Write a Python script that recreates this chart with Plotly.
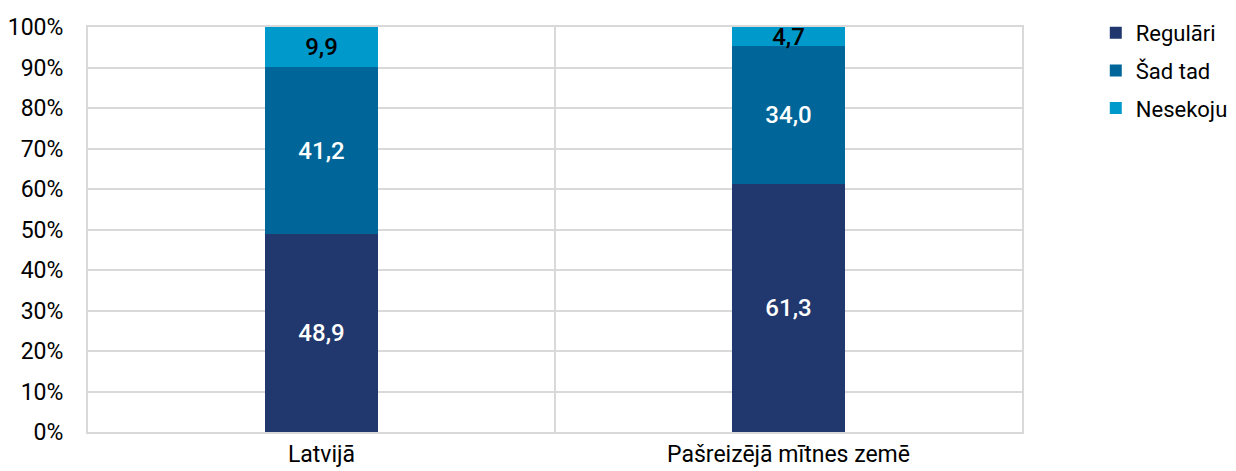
import plotly.graph_objects as go

categories = ["Latvijā", "Pašreizējā mītnes zemē"]
series_names = ["Regulāri", "Šad tad", "Nesekoju"]
regulari = [48.9, 61.3]
sad_tad = [41.2, 34.0]
nesekoju = [9.9, 4.7]
y_ticks = [0, 10, 20, 30, 40, 50, 60, 70, 80, 90, 100]

colors = ["#21386E", "#006699", "#0099CC"]
text_colors = ["white", "white", "black"]
FONT = "Roboto, Liberation Sans, sans-serif"

x_pos = [i + 0.5 for i in range(len(categories))]

def fmt(v):
    return f"{v:.1f}".replace(".", ",")

fig = go.Figure()
for i, (name, vals) in enumerate(zip(series_names, [regulari, sad_tad, nesekoju])):
    fig.add_trace(go.Bar(
        name=name, x=x_pos, y=vals, width=0.244,
        marker=dict(color=colors[i], line=dict(width=0)),
        text=[fmt(v) for v in vals], textposition="inside",
        insidetextanchor="middle",
        textfont=dict(family=FONT, size=24, color=text_colors[i], weight=500),
        legendgroup=name,
        hoverinfo="skip",
    ))

# page body has an 8px margin, so the figure is offset by 8px
fig.update_layout(
    barmode="stack",
    width=1228, height=463,
    margin=dict(l=80, r=214, t=19, b=39, autoexpand=False),
    paper_bgcolor="white", plot_bgcolor="white",
    font=dict(family=FONT, size=23, color="black"),
    uniformtext=dict(minsize=24, mode="show"),
    showlegend=True,
    legend=dict(x=1.079, y=1.037, xanchor="left", yanchor="top",
                tracegroupgap=6, font=dict(size=22), itemwidth=30),
    xaxis=dict(range=[0, 2], tickvals=x_pos, ticktext=categories,
               showgrid=False, showline=True, mirror=True,
               linecolor="#d9d9d9", linewidth=2, ticks="",
               minor=dict(tickvals=[0, 1, 2], showgrid=True,
                          gridcolor="#d9d9d9", gridwidth=2, ticks=""),
               zeroline=False, tickfont=dict(size=23), automargin=False),
    yaxis=dict(range=[0, 100], tickvals=y_ticks,
               ticktext=[f"{v}%" for v in y_ticks],
               showgrid=True, gridcolor="#d9d9d9", gridwidth=2,
               showline=True, mirror=True, linecolor="#d9d9d9", linewidth=2,
               zeroline=False, ticks="", tickfont=dict(size=23),
               ticklabelstandoff=18, automargin=False),
)

fig.write_html("out.html")
